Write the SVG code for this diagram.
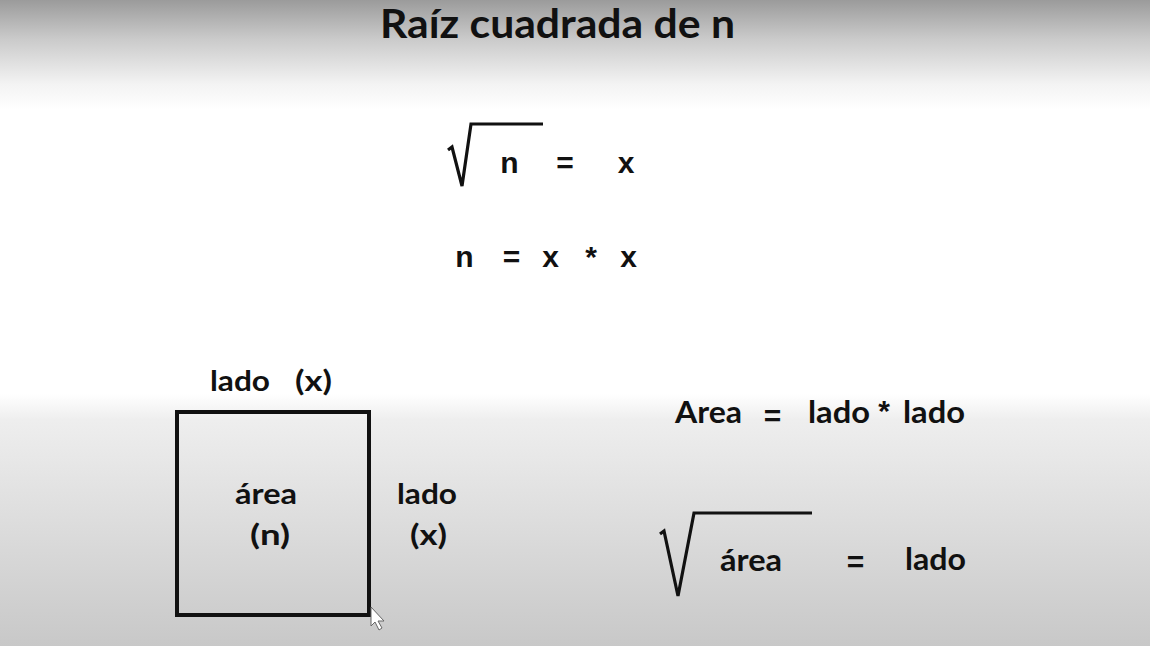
<svg xmlns="http://www.w3.org/2000/svg" width="1150" height="646" viewBox="0 0 1150 646">
<defs>
<linearGradient id="bg" x1="0" y1="0" x2="0" y2="1">
<stop offset="0" stop-color="#9b9b9b"/>
<stop offset="0.06" stop-color="#cacaca"/>
<stop offset="0.13" stop-color="#f3f3f3"/>
<stop offset="0.17" stop-color="#ffffff"/>
<stop offset="0.61" stop-color="#ffffff"/>
<stop offset="0.65" stop-color="#eeeeee"/>
<stop offset="1" stop-color="#c8c8c8"/>
</linearGradient>
</defs>
<style>
.t{font-family:Lato,"Liberation Sans",sans-serif;font-weight:700;fill:#111}
.f{font-family:"Liberation Sans",Arial,sans-serif;font-weight:700;fill:#111;font-size:30px;text-anchor:middle}
.lb{font-size:28px}
.rt{font-size:31px}
.eq{font-size:30px}
.rad{fill:none;stroke:#111;stroke-width:3.2;stroke-linejoin:miter;stroke-linecap:butt}
</style>
<rect x="0" y="0" width="1150" height="646" fill="url(#bg)"/>

<g id="title">
<text class="t" x="380" y="38" font-size="41" textLength="355" lengthAdjust="spacingAndGlyphs">Raíz cuadrada de n</text>
</g>

<g id="formula-sqrt-n">
<polyline class="rad" points="448,150 452,147 462,186 471,124 543,124"/>
<text class="f" x="509.5" y="173">n</text>
<text class="f" x="565" y="173">=</text>
<text class="f" x="626" y="173">x</text>
</g>

<g id="formula-n-xx">
<text class="f" x="464.5" y="267">n</text>
<text class="f" x="511.5" y="267">=</text>
<text class="f" x="550.5" y="267">x</text>
<text class="f" x="591" y="267">*</text>
<text class="f" x="628.5" y="267">x</text>
</g>

<g id="square">
<rect x="177" y="412" width="192" height="203" fill="none" stroke="#111" stroke-width="4"/>
<text class="t lb" x="210" y="391" textLength="60" lengthAdjust="spacingAndGlyphs">lado</text>
<text class="t lb" x="295" y="391" textLength="37" lengthAdjust="spacingAndGlyphs">(x)</text>
<text class="t lb" x="235" y="504" textLength="62" lengthAdjust="spacingAndGlyphs">área</text>
<text class="t lb" x="250" y="545" textLength="40" lengthAdjust="spacingAndGlyphs">(n)</text>
<text class="t lb" x="397" y="504" textLength="60" lengthAdjust="spacingAndGlyphs">lado</text>
<text class="t lb" x="410" y="545" textLength="37" lengthAdjust="spacingAndGlyphs">(x)</text>
</g>

<g id="formula-area">
<text class="t rt" x="675" y="423" textLength="67" lengthAdjust="spacingAndGlyphs">Area</text>
<text class="f eq" x="772.5" y="426">=</text>
<text class="t rt" x="808" y="423" textLength="62" lengthAdjust="spacingAndGlyphs">lado</text>
<text class="f" x="884" y="421">*</text>
<text class="t rt" x="903" y="423" textLength="62" lengthAdjust="spacingAndGlyphs">lado</text>
</g>

<g id="formula-sqrt-area">
<polyline class="rad" points="660,534 664,531 678,596 694,513 812,513"/>
<text class="t rt" x="720" y="571" textLength="62" lengthAdjust="spacingAndGlyphs">área</text>
<text class="f eq" x="855.5" y="572">=</text>
<text class="t rt" x="905" y="570" textLength="61" lengthAdjust="spacingAndGlyphs">lado</text>
</g>

<g id="cursor">
<polygon points="371,607 371,626 375,622 379,630 382,628 378,621 384,621" fill="#ffffff" stroke="#666" stroke-width="1"/>
</g>
</svg>
